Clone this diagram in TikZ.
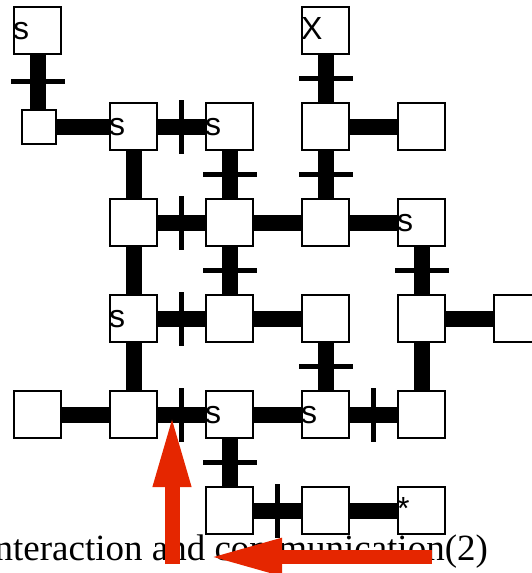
\documentclass[tikz,border=0pt]{standalone}
\usepackage{fontspec}
\setmainfont{Liberation Serif}
\newfontfamily\labelfont{Liberation Sans}
\usetikzlibrary{arrows.meta}
\definecolor{arrowred}{RGB}{229,38,0}
\tikzset{
  cell/.style={draw=black, fill=white, line width=2pt, minimum size=47pt, inner sep=0pt},
  smallcell/.style={cell, minimum size=34pt},
  link/.style={line width=16pt, black},
  vtick/.style={fill=black, inner sep=0pt, minimum width=5pt, minimum height=54pt},
  htick/.style={fill=black, inner sep=0pt, minimum width=54pt, minimum height=5pt},
  lab/.style={font=\labelfont\fontsize{32}{32}\selectfont, inner sep=0pt, anchor=base west},
  bigarrow/.style={arrowred, line width=15pt, -{Triangle[length=74pt, width=34pt]}},
  caption/.style={font=\fontsize{37}{40}\selectfont, inner sep=0pt, anchor=base east}
}
\begin{document}
\begin{tikzpicture}[x=1pt, y=-1pt]
\useasboundingbox (0,0) rectangle (532,573);

% caption, partly covered by the arrows
\node[caption] (cap) at (488,560) {interaction and communication(2)};

% grid cells: bCR = column C, row R
\node[cell] (b00) at (37.5,30) {};
\node[smallcell] (sm) at (39,126.5) {};
\node[cell] (b30) at (325.5,30) {};
\node[cell] (b11) at (133.5,126.5) {};
\node[cell] (b21) at (229.5,126.5) {};
\node[cell] (b31) at (325.5,126.5) {};
\node[cell] (b41) at (421.5,126.5) {};
\node[cell] (b12) at (133.5,222.5) {};
\node[cell] (b22) at (229.5,222.5) {};
\node[cell] (b32) at (325.5,222.5) {};
\node[cell] (b42) at (421.5,222.5) {};
\node[cell] (b13) at (133.5,318.5) {};
\node[cell] (b23) at (229.5,318.5) {};
\node[cell] (b33) at (325.5,318.5) {};
\node[cell] (b43) at (421.5,318.5) {};
\node[cell] (b53) at (517.5,318.5) {};
\node[cell] (b04) at (37.5,414.5) {};
\node[cell] (b14) at (133.5,414.5) {};
\node[cell] (b24) at (229.5,414.5) {};
\node[cell] (b34) at (325.5,414.5) {};
\node[cell] (b44) at (421.5,414.5) {};
\node[cell] (b25) at (229.5,510.5) {};
\node[cell] (b35) at (325.5,510.5) {};
\node[cell] (b45) at (421.5,510.5) {};

% vertical links
\draw[link] (b00.south) -- node[htick]{} (b00.south |- sm.north);
\draw[link] (b30) -- node[htick]{} (b31);
\draw[link] (b11) -- (b12);
\draw[link] (b21) -- node[htick]{} (b22);
\draw[link] (b31) -- node[htick]{} (b32);
\draw[link] (b12) -- (b13);
\draw[link] (b22) -- node[htick]{} (b23);
\draw[link] (b42) -- node[htick]{} (b43);
\draw[link] (b13) -- (b14);
\draw[link] (b33) -- node[htick]{} (b34);
\draw[link] (b43) -- (b44);
\draw[link] (b24) -- node[htick]{} (b25);

% horizontal links
\draw[link] (sm) -- (b11);
\draw[link] (b11) -- node[vtick]{} (b21);
\draw[link] (b31) -- (b41);
\draw[link] (b12) -- node[vtick]{} (b22);
\draw[link] (b22) -- (b32);
\draw[link] (b32) -- (b42);
\draw[link] (b13) -- node[vtick]{} (b23);
\draw[link] (b23) -- (b33);
\draw[link] (b43) -- (b53);
\draw[link] (b04) -- (b14);
\draw[link] (b14) -- node[vtick]{} (b24);
\draw[link] (b24) -- (b34);
\draw[link] (b34) -- node[vtick]{} (b44);
\draw[link] (b25) -- node[vtick]{} (b35);
\draw[link] (b35) -- (b45);

% cell labels
\node[lab] (l00) at ([yshift=-9pt]b00.west) {s};
\node[lab] (l30) at ([yshift=-9pt]b30.west) {X};
\node[lab] (l11) at ([yshift=-9pt]b11.west) {s};
\node[lab] (l21) at ([yshift=-9pt]b21.west) {s};
\node[lab] (l42) at ([yshift=-9pt]b42.west) {s};
\node[lab] (l13) at ([yshift=-9pt]b13.west) {s};
\node[lab] (l24) at ([yshift=-9pt]b24.west) {s};
\node[lab] (l34) at ([yshift=-9pt]b34.west) {s};
\node[lab] (l45) at ([yshift=-9pt]b45.west) {*};

% red arrows
\coordinate (upfrom) at (172,564);
\coordinate (upto) at (172,413);
\coordinate (leftfrom) at (432,557);
\coordinate (leftto) at (208,557);
\draw[bigarrow] (upfrom) -- (upto);
\draw[bigarrow, line width=14pt] (leftfrom) -- (leftto);
\end{tikzpicture}
\end{document}
